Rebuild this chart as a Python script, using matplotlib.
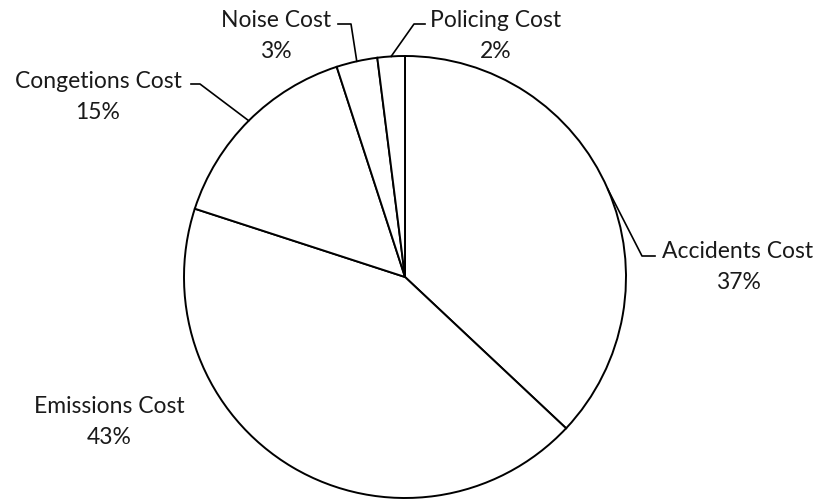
import numpy as np
import matplotlib.pyplot as plt

plt.rcParams['font.family'] = ['Lato', 'DejaVu Sans']

labels = ["Accidents Cost", "Emissions Cost", "Congetions Cost", "Noise Cost", "Policing Cost"]
shares = [37, 43, 15, 3, 2]

# label centre x and first-line baseline y (pixels, y downwards)
label_pos = [(738, 258), (109, 413), (98, 88), (276, 27), (496, 27)]
# leader line bends / ends (the start point is taken on the pie edge)
leaders = [
    [(642, 257), (655, 257)],
    None,
    [(200, 85), (191, 85)],
    [(351, 25), (338, 25)],
    [(414, 25), (425, 25)],
]

W, H = 821, 502
cx, cy, r = 405, 278, 221

fig = plt.figure(figsize=(W / 100, H / 100), dpi=100)

# pie drawn with y upward so the clockwise order is kept
pax = fig.add_axes([0, 0, 1, 1])
pax.pie(shares, startangle=90, counterclock=False, center=(cx, H - cy), radius=r,
        colors=['white'] * len(shares),
        wedgeprops=dict(edgecolor='black', linewidth=1.4), frame=True)
pax.set_xlim(0, W)
pax.set_ylim(0, H)
pax.axis('off')

ax = fig.add_axes([0, 0, 1, 1])
ax.set_xlim(0, W)
ax.set_ylim(H, 0)
ax.axis('off')

ang = 90.0
for lab, s, (x, y), ld in zip(labels, shares, label_pos, leaders):
    mid = np.deg2rad(ang - s * 3.6 / 2)
    ang -= s * 3.6
    ax.text(x, y, lab, ha='center', va='baseline', fontsize=16.5, color='#1a1a1a')
    ax.text(x, y + 31, f"{s}%", ha='center', va='baseline', fontsize=16.5, color='#1a1a1a')
    if ld:
        pts = [(cx + r * np.cos(mid), cy - r * np.sin(mid))] + ld
        xs, ys = zip(*pts)
        ax.plot(xs, ys, color='black', lw=1.2)

fig.savefig('out.png', dpi=100)
